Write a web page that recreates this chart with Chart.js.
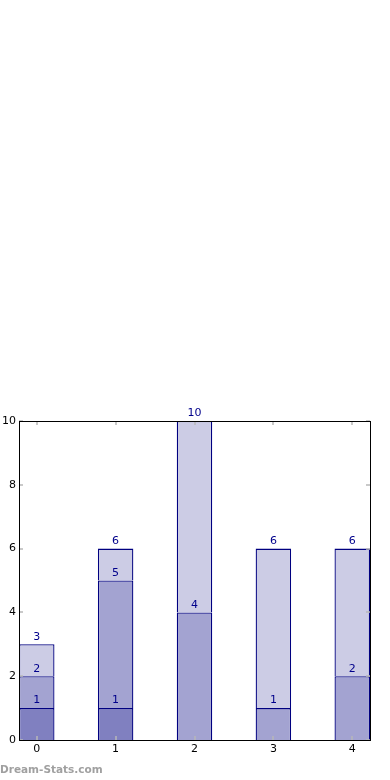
<!DOCTYPE html>
<html>
<head>
<meta charset="utf-8">
<script src="https://cdn.jsdelivr.net/npm/chart.js@4.4.1/dist/chart.umd.min.js"></script>
<style>
  html, body { margin: 0; padding: 0; background: #fff; }
  #wrap { position: relative; width: 390px; height: 780px; }
  #brand { position: absolute; left: 0; top: 763px; font: bold 10.5px "DejaVu Sans", sans-serif; color: #a0a0a0; }
</style>
</head>
<body>
<div id="wrap">
  <canvas id="stackChart" width="390" height="780"></canvas>
  <div id="brand">Dream-Stats.com</div>
</div>
<script>
// categories and values per layer (bottom to top)
const categories = [0, 1, 2, 3, 4];
const layer1 = [1, 1, 0, 0, 0];
const layer2 = [1, 4, 4, 1, 2];
const layer3 = [1, 1, 6, 5, 4];
const yTicks = [0, 2, 4, 6, 8, 10];

const fills = ['#8080c0', '#a3a3d1', '#ccccE5'];
const edge = '#000080';
const labelColor = '#00008b';

function makeSet(vals, i) {
    return {
        data: categories.map((c, k) => ({ x: c, y: vals[k] === 0 ? null : vals[k] })),
        backgroundColor: fills[i],
        borderColor: edge,
        borderWidth: 1.3,
        borderSkipped: 'start',
        categoryPercentage: 1,
        barPercentage: 0.45,
        stack: 's'
    };
}

const framePlugin = {
    id: 'framePlugin',
    afterDatasetsDraw(chart) {
        const ctx = chart.ctx;
        const a = chart.chartArea;
        const xs = chart.scales.x, ys = chart.scales.y;
        ctx.save();
        // inner tick marks
        ctx.strokeStyle = '#b8b8b8';
        ctx.lineWidth = 1.5;
        categories.forEach(c => {
            const px = Math.round(xs.getPixelForValue(c));
            ctx.beginPath();
            ctx.moveTo(px, a.top); ctx.lineTo(px, a.top + 4);
            ctx.moveTo(px, a.bottom); ctx.lineTo(px, a.bottom - 4);
            ctx.stroke();
        });
        yTicks.forEach(v => {
            const py = Math.round(ys.getPixelForValue(v));
            ctx.beginPath();
            ctx.moveTo(a.left, py); ctx.lineTo(a.left + 4, py);
            ctx.moveTo(a.right, py); ctx.lineTo(a.right - 4, py);
            ctx.stroke();
        });
        // cumulative labels
        ctx.fillStyle = labelColor;
        ctx.font = '11px "DejaVu Sans", sans-serif';
        ctx.textAlign = 'center';
        ctx.textBaseline = 'bottom';
        const layers = [layer1, layer2, layer3];
        categories.forEach((c, k) => {
            let sum = 0;
            layers.forEach(l => {
                if (l[k] === 0) return;
                sum += l[k];
                ctx.fillText(String(sum), xs.getPixelForValue(c), ys.getPixelForValue(sum) - 2);
            });
        });
        // frame
        ctx.strokeStyle = '#000';
        ctx.lineWidth = 1;
        ctx.strokeRect(Math.round(a.left) + 0.5, Math.round(a.top) + 0.5,
            Math.round(a.right - a.left), Math.round(a.bottom - a.top));
        ctx.restore();
    }
};

new Chart(document.getElementById('stackChart').getContext('2d'), {
    type: 'bar',
    data: {
        datasets: [makeSet(layer1, 0), makeSet(layer2, 1), makeSet(layer3, 2)]
    },
    options: {
        responsive: false,
        animation: false,
        layout: { padding: { top: 421, left: 0, right: 20, bottom: 0 } },
        plugins: { legend: { display: false }, tooltip: { enabled: false } },
        scales: {
            x: {
                type: 'linear',
                stacked: true,
                offset: false,
                min: -0.225,
                max: 4.225,
                grid: { display: false, drawTicks: false },
                border: { display: false },
                afterBuildTicks: s => { s.ticks = categories.map(v => ({ value: v })); },
                afterFit: s => { s.height = 40; },
                ticks: { color: '#000', padding: 3, font: { family: 'DejaVu Sans', size: 11 } }
            },
            y: {
                stacked: true,
                min: 0,
                max: 10,
                grid: { display: false, drawTicks: false },
                border: { display: false },
                afterBuildTicks: s => { s.ticks = yTicks.map(v => ({ value: v })); },
                afterFit: s => { s.width = 19; },
                ticks: { color: '#000', padding: 3, font: { family: 'DejaVu Sans', size: 11 } }
            }
        }
    },
    plugins: [framePlugin]
});
</script>
</body>
</html>
